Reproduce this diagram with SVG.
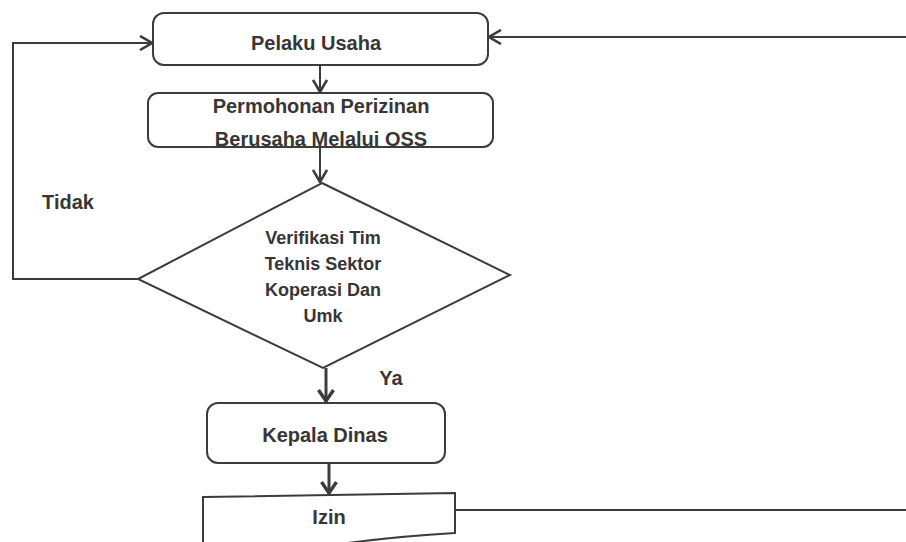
<svg xmlns="http://www.w3.org/2000/svg" width="906" height="542" viewBox="0 0 906 542">
  <style>
    .shape { fill: #ffffff; stroke: #3c3c3c; stroke-width: 2; }
    .conn { fill: none; stroke: #3c3c3c; stroke-width: 2; }
    .thick { stroke-width: 3; }
    .lbl { font-family: "Liberation Sans", Arial, sans-serif; font-weight: bold; font-size: 20px; fill: #363636; text-anchor: middle; }
    .dl { font-size: 18px; }
  </style>
  <defs>
    <marker id="arr" viewBox="0 0 14 16" refX="13" refY="8" markerWidth="14" markerHeight="16" markerUnits="userSpaceOnUse" orient="auto">
      <path d="M1,1 L13,8 L1,15" fill="none" stroke="#3c3c3c" stroke-width="2.6" stroke-linejoin="miter"/>
    </marker>
    <marker id="arrb" viewBox="0 0 14 18" refX="13" refY="9" markerWidth="14" markerHeight="18" markerUnits="userSpaceOnUse" orient="auto">
      <path d="M1,1.5 L12,9 L1,16.5" fill="none" stroke="#3c3c3c" stroke-width="3.4" stroke-linejoin="miter"/>
    </marker>
  </defs>
  <rect width="906" height="542" fill="#ffffff"/>

  <g id="connectors">
    <line class="conn" x1="320" y1="65" x2="320" y2="92" marker-end="url(#arr)"/>
    <line class="conn" x1="320" y1="147" x2="320" y2="182" marker-end="url(#arr)"/>
    <line class="conn thick" x1="326" y1="368" x2="326" y2="402" marker-end="url(#arrb)"/>
    <line class="conn thick" x1="329" y1="463" x2="329" y2="494" marker-end="url(#arrb)"/>
    <polyline class="conn" points="138,279 13,279 13,43 152,43" marker-end="url(#arr)"/>
    <line class="conn" x1="906" y1="37" x2="489" y2="37" marker-end="url(#arr)"/>
    <line class="conn" x1="455" y1="510" x2="906" y2="510"/>
  </g>

  <g id="pelaku-usaha">
    <rect class="shape" x="153" y="13" width="335" height="52" rx="11"/>
    <text class="lbl" x="316" y="50">Pelaku Usaha</text>
  </g>

  <g id="permohonan">
    <rect class="shape" x="148" y="93" width="345" height="54" rx="10"/>
    <text class="lbl" x="321" y="113">Permohonan Perizinan</text>
    <text class="lbl" x="321" y="146">Berusaha Melalui OSS</text>
  </g>

  <g id="verifikasi">
    <polygon class="shape" points="322,183 510,275 323,368 138,279"/>
    <text class="lbl dl" x="323" y="244">Verifikasi Tim</text>
    <text class="lbl dl" x="323" y="270">Teknis Sektor</text>
    <text class="lbl dl" x="323" y="296">Koperasi Dan</text>
    <text class="lbl dl" x="323" y="322">Umk</text>
  </g>

  <g id="label-tidak">
    <text class="lbl" x="68" y="209">Tidak</text>
  </g>
  <g id="label-ya">
    <text class="lbl" x="391" y="385">Ya</text>
  </g>

  <g id="kepala-dinas">
    <rect class="shape" x="207" y="403" width="238" height="60" rx="11"/>
    <text class="lbl" x="325" y="442">Kepala Dinas</text>
  </g>

  <g id="izin">
    <path class="shape" d="M203,497 L455,493 L455,533 Q400,536 340,544 L203,560 Z"/>
    <text class="lbl" x="329" y="524">Izin</text>
  </g>
</svg>
